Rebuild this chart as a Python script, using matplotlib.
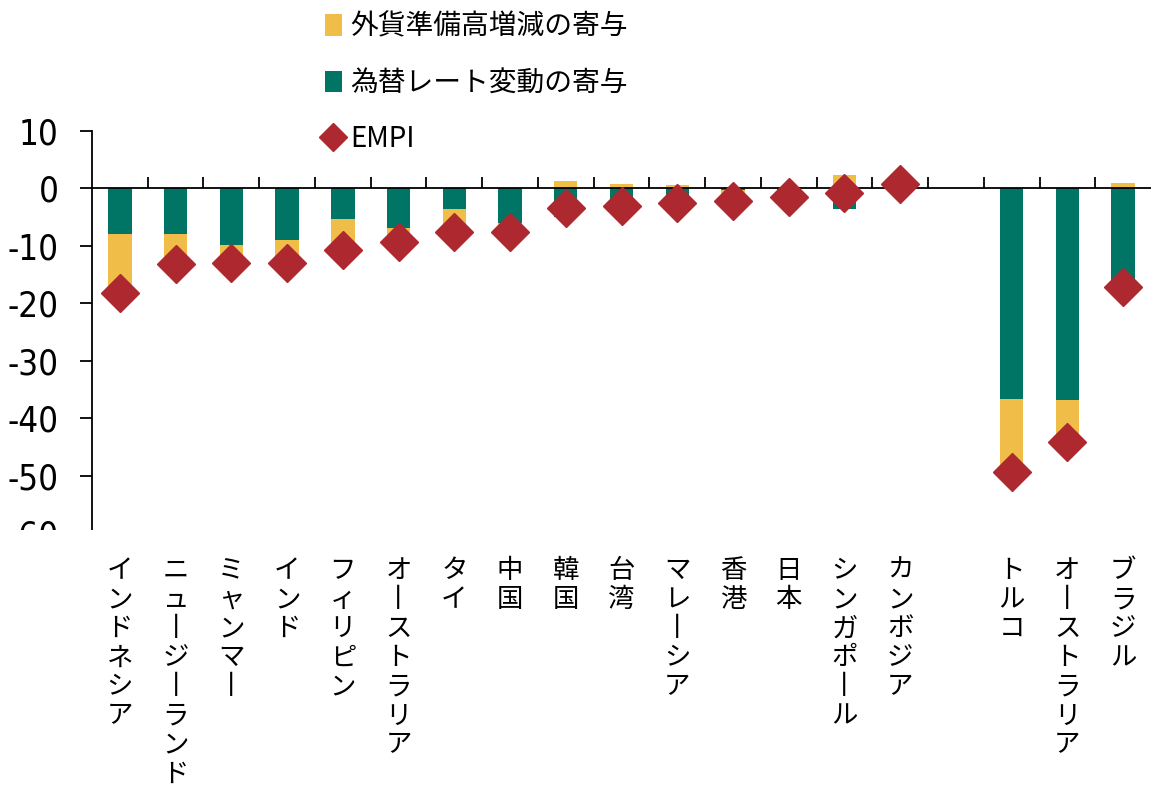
import numpy as np
import matplotlib
matplotlib.use('Agg')
import matplotlib.pyplot as plt
import matplotlib.transforms as mtransforms
from matplotlib.patches import Patch, Rectangle
from matplotlib.lines import Line2D

plt.rcParams['font.family'] = ['Liberation Sans Narrow', 'Noto Sans CJK JP', 'DejaVu Sans']
plt.rcParams['axes.unicode_minus'] = False

# data (%)
countries = ['インドネシア', 'ニュージーランド', 'ミャンマー', 'インド', 'フィリピン',
             'オーストラリア', 'タイ', '中国', '韓国', '台湾', 'マレーシア', '香港',
             '日本', 'シンガポール', 'カンボジア', 'トルコ', 'オーストラリア', 'ブラジル']
fx_reserves = [-10.2, -5.1, -3.1, -4.1, -5.4, -2.4, -3.9, -1.4, 1.3, 0.8, 0.6, -2.0,
               -0.5, 2.3, 1.4, -12.8, -7.3, 0.9]
exch_rate = [-8.0, -8.0, -9.9, -8.9, -5.4, -6.9, -3.6, -6.1, -5.0, -3.9, -3.2, -0.2,
             -1.0, -3.5, -0.7, -36.6, -36.9, -18.1]
empi = [-18.2, -13.1, -13.0, -13.0, -10.8, -9.3, -7.5, -7.5, -3.4, -3.1, -2.6, -2.2,
        -1.5, -0.8, 0.7, -49.4, -44.2, -17.2]
legend_labels = ['外貨準備高増減の寄与', '為替レート変動の寄与', 'EMPI']

yellow = '#F0BE48'
green = '#007566'
red = '#AE2830'

fx = np.array(fx_reserves)
er = np.array(exch_rate)
x = np.arange(len(countries)).astype(float)
x[15:] += 1  # empty slot before the second group

fig = plt.figure(figsize=(11.51, 7.92), dpi=100)
ax = fig.add_axes([92/1151, 1 - 533/792, 1 - 92/1151, (533 - 131)/792])

ax.bar(x, er, width=0.42, color=green, zorder=2)
fx_bottom = np.where((fx < 0) & (er < 0), er, 0)
ax.bar(x, fx, width=0.42, bottom=fx_bottom, color=yellow, zorder=2)
ax.plot(x, empi, linestyle='none', marker='D', markersize=19, color=red, zorder=4)

ax.set_xlim(-0.5, 18.5)
ax.set_ylim(-60, 10)
ax.set_yticks(np.arange(-60, 11, 10))
ax.tick_params(axis='y', labelsize=25, length=9, width=1.3, pad=15)
for lab in ax.get_yticklabels():
    lab.set_family('DejaVu Sans')
    lab.set_stretch('condensed')

# x axis sits at zero, ticks between categories pointing up
ax.spines['bottom'].set_position(('data', 0))
ax.spines['top'].set_visible(False)
ax.spines['right'].set_visible(False)
ax.spines['left'].set_linewidth(1.3)
ax.spines['bottom'].set_linewidth(1.3)
ax.spines['bottom'].set_zorder(3)
ax.set_xticks(np.arange(0.5, 18, 1))
ax.tick_params(axis='x', direction='in', length=8, width=1.3, labelbottom=False)

# vertical category labels
trans = mtransforms.blended_transform_factory(ax.transData, fig.transFigure)
for xi, name in zip(x, countries):
    ax.text(xi, 1 - 557/792, '\n'.join(name.replace('ー', '丨')), transform=trans,
            ha='center', va='top', fontsize=19, linespacing=1.1,
            family=['Noto Sans CJK JP', 'DejaVu Sans'])

# the source image is cut off below -60
fig.add_artist(Rectangle((0, 1 - 552/792), 1, 22/792, transform=fig.transFigure,
                         facecolor='white', edgecolor='none', zorder=10))

handles = [Patch(facecolor=yellow), Patch(facecolor=green),
           Line2D([], [], linestyle='none', marker='D', markersize=14, color=red)]
fig.legend(handles, legend_labels, loc='upper left', bbox_to_anchor=(300/1151, 1.017),
           frameon=False, handlelength=0.6, handleheight=0.8,
           handletextpad=0.3, labelspacing=0.95,
           prop={'family': ['Liberation Sans Narrow', 'Noto Sans CJK JP'], 'size': 20})

plt.savefig('out.png', dpi=100)
